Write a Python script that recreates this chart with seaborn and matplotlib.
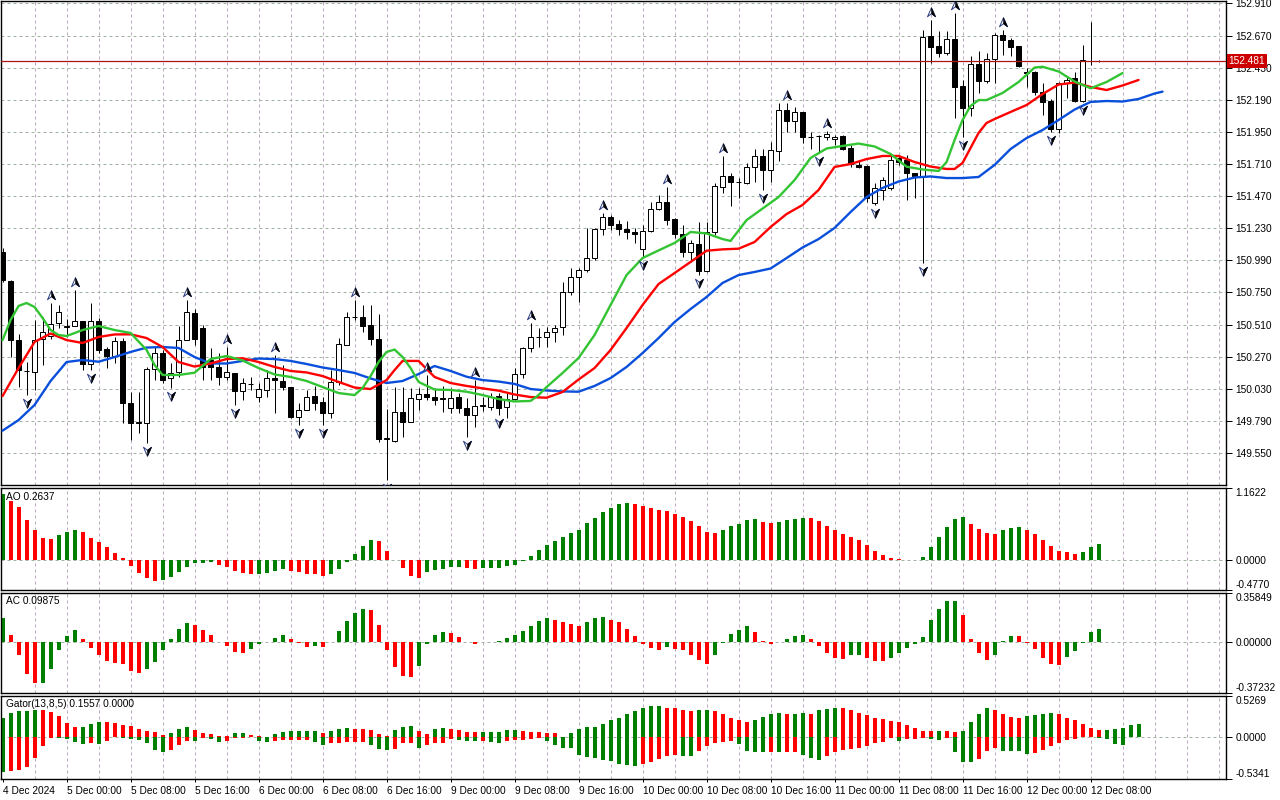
import matplotlib
matplotlib.use("Agg")
import matplotlib.pyplot as plt
import matplotlib.transforms as mtransforms
from matplotlib.path import Path
import seaborn as sns

sns.set_theme(style="white")
plt.rcParams["font.family"] = ["Liberation Sans", "DejaVu Sans"]

# ---------------- data ----------------
open_ = [151.055, 150.836, 150.394, 150.165, 150.155, 150.402, 150.427, 150.522, 150.494, 150.499,
         150.536, 150.215, 150.536, 150.327, 150.277, 150.387, 149.924, 149.776, 149.776, 150.178,
         150.297, 150.110, 150.155, 150.394, 150.596, 150.484, 150.245, 150.195, 150.120, 150.148,
         150.016, 150.066, 149.971, 150.021, 150.113, 150.088, 150.045, 149.821, 149.871, 149.976,
         149.931, 149.851, 150.083, 150.357, 150.569, 150.569, 150.507, 150.402, 149.657, 149.642,
         149.859, 149.784, 149.953, 149.989, 149.966, 149.961, 149.886, 149.966, 149.884, 149.834,
         149.903, 149.896, 149.976, 149.891, 149.951, 150.138, 150.337, 150.415, 150.415, 150.452,
         150.489, 150.751, 150.863, 150.918, 151.010, 151.224, 151.312, 151.262, 151.224, 151.204,
         151.072, 151.209, 151.371, 151.424, 151.299, 151.187, 151.050, 151.112, 150.913, 151.204,
         151.540, 151.620, 151.578, 151.570, 151.690, 151.770, 151.665, 151.810, 152.114, 152.034,
         152.101, 151.914, 151.919, 151.914, 151.895, 151.919, 151.827, 151.703, 151.695, 151.421,
         151.516, 151.528, 151.753, 151.740, 151.641, 151.620, 152.667, 152.592, 152.542, 152.642,
         152.293, 152.126, 152.455, 152.333, 152.493, 152.674, 152.637, 152.592, 152.396, 152.400,
         152.251, 152.183, 151.969, 152.316, 152.351, 152.183, 152.480, 152.483]
high = [151.082, 150.843, 150.439, 150.232, 150.544, 150.566, 150.671, 150.656, 150.551, 150.768,
        150.536, 150.671, 150.561, 150.344, 150.419, 150.409, 150.008, 150.008, 150.195, 150.344,
        150.320, 150.223, 150.499, 150.693, 150.626, 150.507, 150.335, 150.297, 150.344, 150.148,
        150.110, 150.120, 150.073, 150.170, 150.282, 150.208, 150.045, 149.924, 150.021, 150.053,
        149.971, 150.170, 150.409, 150.606, 150.693, 150.656, 150.656, 150.589, 149.879, 150.045,
        150.045, 150.036, 150.036, 150.133, 150.036, 150.051, 150.036, 149.998, 149.959, 150.095,
        149.971, 149.996, 149.996, 149.998, 150.183, 150.344, 150.519, 150.482, 150.494, 150.507,
        150.830, 150.930, 150.930, 151.229, 151.229, 151.342, 151.329, 151.291, 151.284, 151.229,
        151.254, 151.424, 151.478, 151.540, 151.304, 151.254, 151.142, 151.279, 151.279, 151.566,
        151.770, 151.641, 151.603, 151.715, 151.820, 151.820, 151.877, 152.164, 152.164, 152.138,
        152.101, 151.952, 151.927, 151.957, 151.927, 151.927, 151.852, 151.740, 151.703, 151.566,
        151.611, 151.777, 151.770, 151.777, 151.641, 152.712, 152.786, 152.707, 152.707, 152.837,
        152.338, 152.517, 152.557, 152.542, 152.692, 152.712, 152.650, 152.592, 152.425, 152.408,
        152.313, 152.194, 152.325, 152.368, 152.400, 152.600, 152.774, 152.487]
low = [150.828, 150.270, 150.045, 149.983, 150.021, 150.208, 150.400, 150.484, 150.419, 150.499,
       150.170, 150.170, 150.300, 150.185, 150.223, 149.774, 149.647, 149.702, 149.625, 150.095,
       150.073, 150.036, 150.120, 150.394, 150.357, 150.095, 150.095, 150.058, 150.095, 149.909,
       149.946, 150.021, 149.933, 149.971, 149.851, 150.021, 149.811, 149.759, 149.871, 149.871,
       149.759, 149.811, 150.058, 150.357, 150.544, 150.457, 150.357, 149.634, 149.350, 149.632,
       149.672, 149.784, 149.871, 149.946, 149.909, 149.859, 149.849, 149.849, 149.672, 149.746,
       149.866, 149.871, 149.834, 149.811, 149.946, 150.108, 150.307, 150.344, 150.344, 150.382,
       150.432, 150.731, 150.681, 150.905, 150.992, 151.179, 151.217, 151.179, 151.149, 151.117,
       151.017, 151.204, 151.366, 151.254, 151.155, 151.017, 150.978, 150.880, 150.905, 151.179,
       151.491, 151.396, 151.454, 151.561, 151.578, 151.516, 151.578, 151.735, 151.952, 151.952,
       151.865, 151.820, 151.790, 151.889, 151.852, 151.815, 151.690, 151.680, 151.428, 151.404,
       151.441, 151.516, 151.703, 151.440, 151.454, 150.968, 152.467, 152.508, 152.525, 152.052,
       151.914, 152.069, 152.239, 152.313, 152.313, 152.525, 152.517, 152.437, 152.283, 152.226,
       152.076, 151.952, 151.944, 152.201, 152.176, 152.176, 152.450, 152.473]
close = [150.843, 150.394, 150.170, 150.160, 150.394, 150.457, 150.512, 150.604, 150.497, 150.536,
         150.215, 150.536, 150.320, 150.277, 150.387, 149.924, 149.774, 149.779, 150.178, 150.297,
         150.095, 150.150, 150.394, 150.604, 150.402, 150.195, 150.195, 150.120, 150.155, 150.016,
         150.073, 150.069, 150.028, 150.110, 150.095, 150.043, 149.821, 149.871, 149.968, 149.926,
         149.851, 150.083, 150.365, 150.569, 150.566, 150.499, 150.402, 149.654, 149.660, 149.859,
         149.784, 149.961, 149.989, 149.968, 149.946, 149.956, 149.959, 149.884, 149.834, 149.903,
         149.906, 149.971, 149.884, 149.951, 150.138, 150.337, 150.415, 150.418, 150.452, 150.482,
         150.751, 150.863, 150.918, 151.005, 151.224, 151.312, 151.254, 151.222, 151.200, 151.187,
         151.209, 151.371, 151.424, 151.291, 151.187, 151.055, 151.117, 150.913, 151.204, 151.546,
         151.620, 151.578, 151.575, 151.690, 151.770, 151.665, 151.815, 152.114, 152.034, 152.097,
         151.910, 151.911, 151.922, 151.932, 151.910, 151.820, 151.710, 151.690, 151.454, 151.528,
         151.590, 151.740, 151.727, 151.641, 151.620, 152.662, 152.587, 152.542, 152.642, 152.288,
         152.131, 152.455, 152.333, 152.493, 152.674, 152.637, 152.587, 152.443, 152.393, 152.251,
         152.176, 151.969, 152.318, 152.338, 152.183, 152.487, 152.483, 152.481]

jaw_x = [0, 2, 4, 6, 8, 10, 12, 14, 16, 18, 20, 22, 24, 26, 28, 30, 32, 34, 36, 38, 40, 42, 44, 46,
         48, 50, 52, 54, 56, 58, 60, 62, 64, 66, 68, 70, 72, 74, 76, 78, 80, 82, 84, 86, 88, 90, 92,
         94, 96, 98, 100, 102, 104, 106, 108, 110, 112, 114, 116, 118, 120, 122, 124, 126, 128, 130,
         132, 134, 136, 138, 140, 142, 144, 145]
jaw_v = [149.717, 149.796, 149.909, 150.088, 150.230, 150.245, 150.232, 150.267, 150.305, 150.338,
         150.342, 150.335, 150.267, 150.219, 150.219, 150.238, 150.256, 150.252, 150.238, 150.215,
         150.189, 150.170, 150.148, 150.107, 150.073, 150.088, 150.140, 150.200, 150.163, 150.120,
         150.095, 150.084, 150.066, 150.028, 150.017, 150.010, 150.008, 150.051, 150.110, 150.193,
         150.297, 150.409, 150.529, 150.626, 150.716, 150.821, 150.880, 150.903, 150.929, 151.007,
         151.086, 151.149, 151.232, 151.351, 151.463, 151.531, 151.579, 151.609, 151.617, 151.605,
         151.605, 151.613, 151.703, 151.822, 151.904, 151.964, 152.039, 152.117, 152.174, 152.181,
         152.177, 152.196, 152.237, 152.251]

teeth_x = [0, 2, 4, 6, 8, 10, 12, 14, 16, 18, 20, 22, 24, 26, 28, 30, 32, 34, 36, 38, 40, 42, 44,
           46, 48, 49, 50, 52, 54, 56, 58, 60, 62, 64, 66, 68, 70, 72, 74, 76, 78, 80, 82, 84, 86,
           88, 90, 92, 94, 96, 98, 100, 102, 104, 106, 108, 110, 112, 114, 116, 118, 119, 120, 121,
           122, 123, 124, 126, 128, 130, 132, 134, 136, 138, 140, 142]
teeth_v = [149.976, 150.185, 150.380, 150.443, 150.394, 150.372, 150.417, 150.436, 150.437, 150.409,
           150.342, 150.230, 150.196, 150.219, 150.252, 150.258, 150.230, 150.193, 150.163, 150.152,
           150.125, 150.081, 150.039, 150.028, 150.095, 150.170, 150.238, 150.238, 150.118, 150.073,
           150.051, 150.033, 150.016, 149.987, 149.968, 149.963, 150.006, 150.099, 150.185, 150.320,
           150.484, 150.656, 150.813, 150.895, 150.978, 151.062, 151.072, 151.077, 151.127, 151.239,
           151.336, 151.404, 151.516, 151.688, 151.710, 151.747, 151.770, 151.770, 151.725, 151.691,
           151.673, 151.673, 151.718, 151.830, 151.942, 152.017, 152.046, 152.099, 152.151, 152.233,
           152.304, 152.319, 152.286, 152.263, 152.297, 152.338]

lips_x = [0, 1, 2, 3, 4, 5, 6, 7, 8, 10, 12, 14, 16, 18, 19, 20, 22, 24, 26, 28, 30, 32, 34, 36, 38,
          40, 42, 44, 45, 46, 47, 48, 49, 50, 51, 52, 54, 56, 58, 60, 62, 64, 66, 67, 68, 70, 72, 74,
          76, 78, 80, 82, 84, 86, 88, 90, 91, 93, 95, 97, 99, 101, 103, 105, 107, 109, 111, 113, 115,
          117, 118, 119, 120, 121, 122, 123, 125, 127, 129, 130, 132, 134, 136, 138, 140]
lips_v = [150.394, 150.544, 150.649, 150.671, 150.641, 150.559, 150.469, 150.432, 150.424, 150.469,
          150.499, 150.469, 150.447, 150.320, 150.208, 150.133, 150.133, 150.150, 150.252, 150.275,
          150.241, 150.185, 150.137, 150.118, 150.088, 150.043, 149.998, 149.983, 150.036, 150.125,
          150.230, 150.305, 150.323, 150.267, 150.185, 150.081, 150.024, 150.021, 150.008, 149.983,
          149.953, 149.935, 149.939, 149.983, 150.043, 150.148, 150.260, 150.432, 150.656, 150.880,
          151.007, 151.064, 151.120, 151.202, 151.191, 151.149, 151.135, 151.291, 151.377, 151.463,
          151.590, 151.755, 151.826, 151.845, 151.863, 151.841, 151.785, 151.690, 151.669, 151.658,
          151.725, 151.889, 152.039, 152.144, 152.188, 152.188, 152.241, 152.323, 152.431, 152.437,
          152.402, 152.327, 152.276, 152.323, 152.390]

fractal_up = [6, 9, 23, 28, 34, 44, 53, 59, 66, 75, 83, 90, 98, 103, 116, 119, 125]
fractal_down = [3, 11, 18, 21, 29, 37, 40, 48, 58, 62, 80, 87, 95, 102, 109, 115, 120, 131, 135]

ao = [1.060, 0.952, 0.849, 0.655, 0.492, 0.362, 0.346, 0.400, 0.449, 0.492,
      0.449, 0.362, 0.298, 0.216, 0.119, 0.038, -0.087, -0.200, -0.281, -0.330,
      -0.314, -0.265, -0.184, -0.103, -0.049, -0.038, -0.032, -0.076, -0.103, -0.168,
      -0.211, -0.222, -0.219, -0.211, -0.168, -0.135, -0.168, -0.184, -0.216, -0.227,
      -0.249, -0.216, -0.135, -0.027, 0.103, 0.238, 0.330, 0.314, 0.151, 0.005,
      -0.119, -0.249, -0.281, -0.184, -0.157, -0.135, -0.108, -0.104, -0.125, -0.135,
      -0.130, -0.119, -0.117, -0.097, -0.070, -0.011, 0.070, 0.168, 0.249, 0.314,
      0.379, 0.444, 0.492, 0.595, 0.687, 0.784, 0.833, 0.898, 0.914, 0.912,
      0.871, 0.833, 0.801, 0.797, 0.752, 0.703, 0.638, 0.557, 0.449, 0.445,
      0.492, 0.557, 0.590, 0.655, 0.671, 0.622, 0.606, 0.622, 0.655, 0.671,
      0.687, 0.684, 0.638, 0.557, 0.492, 0.427, 0.379, 0.330, 0.249, 0.151,
      0.087, 0.038, 0.016, 0.004, 0.008, 0.054, 0.216, 0.379, 0.541, 0.671,
      0.703, 0.590, 0.509, 0.444, 0.427, 0.492, 0.520, 0.530, 0.492, 0.427,
      0.330, 0.233, 0.151, 0.135, 0.103, 0.135, 0.216, 0.2637]

ac = [0.174, 0.053, -0.097, -0.237, -0.300, -0.298, -0.194, -0.056, 0.046, 0.090,
      0.022, -0.046, -0.097, -0.136, -0.155, -0.157, -0.208, -0.223, -0.194, -0.148,
      -0.061, 0.022, 0.097, 0.138, 0.123, 0.087, 0.053, 0.000, -0.031, -0.075,
      -0.082, -0.051, -0.017, -0.002, 0.027, 0.051, 0.024, -0.007, -0.034, -0.029,
      -0.033, 0.000, 0.082, 0.155, 0.215, 0.242, 0.235, 0.126, -0.061, -0.184,
      -0.249, -0.259, -0.177, -0.017, 0.053, 0.075, 0.068, 0.039, 0.000, -0.012,
      -0.002, 0.000, 0.007, 0.029, 0.048, 0.082, 0.119, 0.155, 0.177, 0.162,
      0.145, 0.133, 0.119, 0.148, 0.177, 0.184, 0.162, 0.145, 0.097, 0.046,
      -0.012, -0.046, -0.056, -0.039, -0.048, -0.061, -0.097, -0.128, -0.157, -0.097,
      -0.010, 0.061, 0.090, 0.114, 0.075, 0.010, -0.017, 0.000, 0.022, 0.046,
      0.048, 0.022, -0.031, -0.082, -0.119, -0.121, -0.097, -0.095, -0.119, -0.140,
      -0.142, -0.119, -0.082, -0.046, -0.017, 0.039, 0.162, 0.242, 0.300, 0.303,
      0.199, 0.022, -0.082, -0.133, -0.097, 0.007, 0.046, 0.044, -0.005, -0.053,
      -0.119, -0.160, -0.169, -0.111, -0.068, -0.007, 0.073, 0.09875]

gator_up = [0.252, 0.315, 0.330, 0.340, 0.346, 0.344, 0.320, 0.277, 0.185, 0.130,
            0.132, 0.164, 0.193, 0.190, 0.188, 0.151, 0.143, 0.101, 0.076, 0.063,
            0.025, 0.050, 0.101, 0.130, 0.092, 0.050, 0.042, 0.017, 0.015, 0.050,
            0.052, 0.029, 0.017, 0.008, 0.042, 0.063, 0.076, 0.078, 0.080, 0.082,
            0.050, 0.076, 0.101, 0.117, 0.101, 0.099, 0.092, 0.042, 0.017, 0.092,
            0.130, 0.143, 0.084, 0.042, 0.109, 0.117, 0.101, 0.092, 0.063, 0.061,
            0.063, 0.065, 0.067, 0.092, 0.094, 0.084, 0.063, 0.061, 0.059, 0.050,
            0.005, 0.050, 0.109, 0.130, 0.132, 0.164, 0.218, 0.252, 0.294, 0.336,
            0.369, 0.394, 0.396, 0.378, 0.369, 0.344, 0.331, 0.344, 0.352, 0.331,
            0.294, 0.252, 0.218, 0.193, 0.218, 0.260, 0.302, 0.304, 0.300, 0.303,
            0.305, 0.300, 0.344, 0.357, 0.378, 0.376, 0.344, 0.315, 0.290, 0.252,
            0.227, 0.210, 0.190, 0.155, 0.113, 0.084, 0.080, 0.082, 0.078, 0.063,
            0.084, 0.193, 0.302, 0.369, 0.352, 0.294, 0.260, 0.252, 0.269, 0.281,
            0.294, 0.306, 0.294, 0.252, 0.218, 0.168, 0.117, 0.092, 0.094, 0.105,
            0.117, 0.151, 0.168]

gator_down = [-0.440, -0.432, -0.420, -0.378, -0.264, -0.117, -0.005, -0.013, -0.021, -0.067,
              -0.088, -0.080, -0.084, -0.042, -0.002, -0.013, -0.025, -0.034, -0.076, -0.168,
              -0.193, -0.168, -0.097, -0.042, -0.044, -0.013, -0.017, -0.055, -0.042, -0.013,
              -0.012, -0.002, -0.042, -0.067, -0.042, -0.041, -0.040, -0.038, -0.036, -0.055,
              -0.105, -0.076, -0.070, -0.067, -0.066, -0.055, -0.097, -0.151, -0.168, -0.151,
              -0.076, -0.074, -0.138, -0.097, -0.076, -0.074, -0.025, -0.034, -0.042, -0.044,
              -0.042, -0.060, -0.076, -0.042, -0.040, -0.034, -0.025, -0.005, -0.042, -0.105,
              -0.138, -0.140, -0.222, -0.252, -0.264, -0.285, -0.306, -0.348, -0.361, -0.362,
              -0.336, -0.311, -0.273, -0.235, -0.233, -0.236, -0.243, -0.180, -0.117, -0.076,
              -0.055, -0.054, -0.088, -0.180, -0.193, -0.195, -0.190, -0.193, -0.190, -0.188,
              -0.222, -0.264, -0.285, -0.243, -0.193, -0.159, -0.151, -0.134, -0.108, -0.076,
              -0.059, -0.010, -0.042, -0.025, -0.024, -0.005, -0.017, -0.034, -0.004, -0.193,
              -0.319, -0.320, -0.277, -0.180, -0.143, -0.180, -0.181, -0.182, -0.210, -0.208,
              -0.168, -0.117, -0.076, -0.034, -0.025, -0.003, -0.002, -0.013, -0.021, -0.084,
              -0.097]

price_ticks = [152.910, 152.670, 152.430, 152.190, 151.950, 151.710, 151.470, 151.230,
               150.990, 150.750, 150.510, 150.270, 150.030, 149.790, 149.550]
current_price = 152.481
ao_ticks = [1.1622, 0.0, -0.4770]
ac_ticks = [0.35849, 0.0, -0.37232]
gator_ticks = [0.5269, 0.0, -0.5341]
xtick_idx = [0, 8, 16, 24, 32, 40, 48, 56, 64, 72, 80, 88, 96, 104, 112, 120, 128, 136]
xtick_labels = ["4 Dec 2024", "5 Dec 00:00", "5 Dec 08:00", "5 Dec 16:00", "6 Dec 00:00",
                "6 Dec 08:00", "6 Dec 16:00", "9 Dec 00:00", "9 Dec 08:00", "9 Dec 16:00",
                "10 Dec 00:00", "10 Dec 08:00", "10 Dec 16:00", "11 Dec 00:00", "11 Dec 08:00",
                "11 Dec 16:00", "12 Dec 00:00", "12 Dec 08:00"]

# ---------------- style ----------------
GREEN = "#008000"
RED = "#ff0000"
HGRID = "#a3b3a3"
VGRID = "#bba9bf"
PX = 0.72  # one pixel in points
FS = 7.3

W, H = 1280, 800
fig = plt.figure(figsize=(W / 100, H / 100), dpi=100, facecolor="white")


def ax_at(x0, y0, x1, y1):
    return fig.add_axes([x0 / W, 1 - y1 / H, (x1 - x0) / W, (y1 - y0) / H])


ax_main = ax_at(0.5, 1, 1226, 485)
ax_ao = ax_at(0.5, 488, 1226, 590)
ax_ac = ax_at(0.5, 593, 1226, 693)
ax_gt = ax_at(0.5, 696, 1226, 779)
axes = [ax_main, ax_ao, ax_ac, ax_gt]

XMIN, XMAX = -0.26, 152.93
vgrid = list(range(4, 153, 4))

for ax in axes:
    ax.set_facecolor("white")
    ax.set_xlim(XMIN, XMAX)
    for s in ax.spines.values():
        s.set_color("black")
        s.set_linewidth(1.0)
    for g in vgrid:
        ax.axvline(g, color=VGRID, lw=PX, ls=(0, (3, 3)), zorder=0)
    ax.yaxis.tick_right()
    ax.tick_params(axis="y", direction="out", length=4, width=PX, labelsize=FS,
                   pad=3, colors="black", left=False, right=True)
    ax.grid(False)

for ax in axes[:3]:
    ax.set_xticks([])

# ---------------- main chart ----------------
ax_main.set_ylim(149.3106, 152.9285)
ax_main.set_yticks(price_ticks)
ax_main.set_yticklabels([f"{p:.3f}" for p in price_ticks])
for p in price_ticks:
    ax_main.axhline(p, color=HGRID, lw=PX, ls=(0, (3, 3)), zorder=0)

idx = list(range(len(open_)))
ax_main.vlines(idx, low, high, color="black", lw=PX, zorder=2)
bottoms = [min(o, c) for o, c in zip(open_, close)]
heights = [abs(c - o) for o, c in zip(open_, close)]
faces = ["white" if c >= o else "black" for o, c in zip(open_, close)]
ax_main.bar(idx, heights, bottom=bottoms, width=0.62, color=faces, edgecolor="black",
            linewidth=PX, zorder=3)

sns.lineplot(x=jaw_x, y=jaw_v, ax=ax_main, color="#0a4fdc", linewidth=1.7, sort=False, zorder=4)
sns.lineplot(x=teeth_x, y=teeth_v, ax=ax_main, color="#ff0000", linewidth=1.7, sort=False, zorder=4)
sns.lineplot(x=lips_x, y=lips_v, ax=ax_main, color="#33c433", linewidth=1.7, sort=False, zorder=4)
ax_main.set_xlim(XMIN, XMAX)
ax_main.set_xlabel("")
ax_main.set_ylabel("")

C4 = [Path.MOVETO, Path.LINETO, Path.LINETO, Path.LINETO, Path.CLOSEPOLY]
C3 = [Path.MOVETO, Path.LINETO, Path.LINETO, Path.CLOSEPOLY]
up_full = Path([(0, 1), (0.85, -0.9), (0, -0.25), (-0.85, -0.9), (0, 1)], C4)
up_half = Path([(0, 1), (0.85, -0.9), (0, -0.25), (0, 1)], C3)
dn_full = Path([(0, -1), (0.85, 0.9), (0, 0.25), (-0.85, 0.9), (0, -1)], C4)
dn_half = Path([(0, -1), (0.85, 0.9), (0, 0.25), (0, -1)], C3)
tr_up = mtransforms.offset_copy(ax_main.transData, fig=fig, y=8, units="dots")
tr_dn = mtransforms.offset_copy(ax_main.transData, fig=fig, y=-8, units="dots")
fu_y = [high[i] for i in fractal_up]
fd_y = [low[i] for i in fractal_down]
ax_main.plot(fractal_up, fu_y, ls="none", marker=up_full, ms=6.8, mfc="white",
             mec="#2c3e80", mew=0.7, transform=tr_up, zorder=6)
ax_main.plot(fractal_up, fu_y, ls="none", marker=up_half, ms=6.8, mfc="black",
             mec="black", mew=0.4, transform=tr_up, zorder=7)
ax_main.plot(fractal_down, fd_y, ls="none", marker=dn_full, ms=6.8, mfc="white",
             mec="#2c3e80", mew=0.7, transform=tr_dn, zorder=6)
ax_main.plot(fractal_down, fd_y, ls="none", marker=dn_half, ms=6.8, mfc="black",
             mec="black", mew=0.4, transform=tr_dn, zorder=7)

ax_main.axhline(current_price, color="#b01515", lw=0.9, zorder=5)
blend = mtransforms.blended_transform_factory(ax_main.transAxes, ax_main.transData)
ax_main.text(1.0022, current_price, f"{current_price:.3f}", transform=blend, ha="left",
             va="center", fontsize=FS, color="white", clip_on=False, zorder=10,
             bbox=dict(boxstyle="square,pad=0.18", fc="#cc0000", ec="none"))


# ---------------- indicator panels ----------------
def rising_colors(vals, key=lambda v: v):
    cols = [GREEN]
    for a, b in zip(vals[:-1], vals[1:]):
        cols.append(GREEN if key(b) > key(a) else RED)
    return cols


def setup_panel(ax, ticks, labels, title):
    ax.set_ylim(ticks[-1], ticks[0])
    ax.set_yticks(ticks)
    ax.set_yticklabels(labels)
    tl = ax.get_yticklabels()
    tl[0].set_va("top")
    tl[-1].set_va("bottom")
    ax.axhline(0, color=HGRID, lw=PX, ls=(0, (3, 3)), zorder=0)
    ax.text(0.0045, 0.965, title, transform=ax.transAxes, ha="left", va="top",
            fontsize=FS, color="black")


ax_ao.bar(range(len(ao)), ao, width=0.5, color=rising_colors(ao), linewidth=0, zorder=2)
setup_panel(ax_ao, ao_ticks, ["1.1622", "0.0000", "-0.4770"], "AO 0.2637")

ax_ac.bar(range(len(ac)), ac, width=0.5, color=rising_colors(ac), linewidth=0, zorder=2)
setup_panel(ax_ac, ac_ticks, ["0.35849", "0.00000", "-0.37232"], "AC 0.09875")

ax_gt.bar(range(len(gator_up)), gator_up, width=0.5, color=rising_colors(gator_up),
          linewidth=0, zorder=2)
ax_gt.bar(range(len(gator_down)), gator_down, width=0.5,
          color=rising_colors(gator_down, key=abs), linewidth=0, zorder=2)
setup_panel(ax_gt, gator_ticks, ["0.5269", "0.0000", "-0.5341"], "Gator(13,8,5) 0.1557 0.0000")

ax_gt.set_xticks(xtick_idx)
ax_gt.set_xticklabels(xtick_labels, ha="left")
ax_gt.tick_params(axis="x", direction="out", length=2, width=PX, labelsize=FS, pad=3,
                  colors="black", bottom=True)
ax_gt.set_xlim(XMIN, XMAX)

fig.savefig("out.png", dpi=100, facecolor="white")
